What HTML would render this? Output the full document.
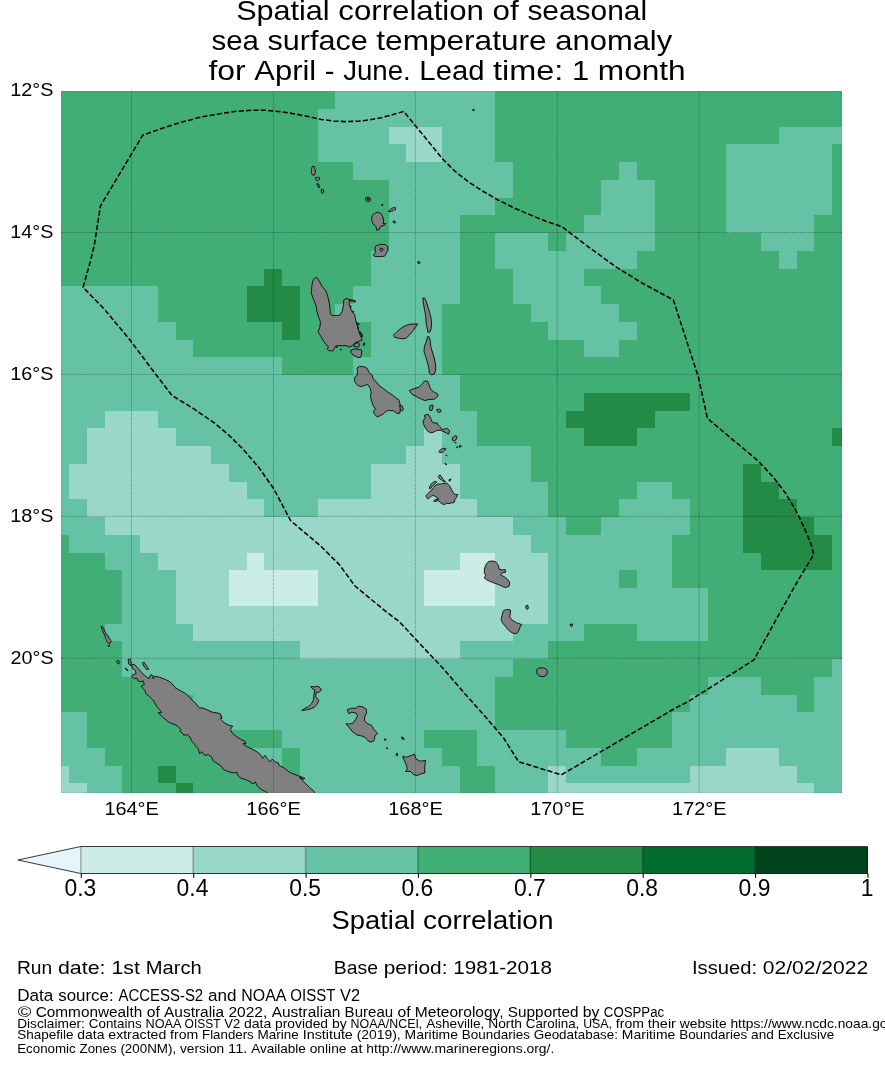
<!DOCTYPE html>
<html lang="en">
<head>
<meta charset="utf-8">
<title>Spatial correlation of seasonal sea surface temperature anomaly</title>
<style>
html,body{margin:0;padding:0;background:#fff;}
body{width:885px;height:1065px;overflow:hidden;font-family:"Liberation Sans",sans-serif;}
svg{display:block;}
svg text{font-family:"Liberation Sans",sans-serif;fill:#000;}
</style>
</head>
<body>
<svg width="885" height="1065" viewBox="0 0 885 1065">
<rect width="885" height="1065" fill="#fff"/>
<defs><filter id="gs" x="0" y="0" width="885" height="1065" filterUnits="userSpaceOnUse" color-interpolation-filters="sRGB"><feColorMatrix type="saturate" values="0"/></filter><clipPath id="mapclip"><rect x="61" y="91" width="781" height="702"/></clipPath></defs>

<g clip-path="url(#mapclip)">
<g shape-rendering="crispEdges">
<rect x="60" y="90" width="783" height="704" fill="#41ae76"/>
<rect x="335" y="91" width="160" height="18" fill="#66c2a4"/>
<rect x="318" y="109" width="177" height="18" fill="#66c2a4"/>
<rect x="318" y="127" width="71" height="17" fill="#66c2a4"/>
<rect x="389" y="127" width="53" height="17" fill="#99d8c9"/>
<rect x="442" y="127" width="53" height="17" fill="#66c2a4"/>
<rect x="779" y="127" width="63" height="17" fill="#66c2a4"/>
<rect x="318" y="144" width="88" height="18" fill="#66c2a4"/>
<rect x="406" y="144" width="36" height="18" fill="#99d8c9"/>
<rect x="442" y="144" width="53" height="18" fill="#66c2a4"/>
<rect x="726" y="144" width="106" height="18" fill="#66c2a4"/>
<rect x="353" y="162" width="160" height="18" fill="#66c2a4"/>
<rect x="619" y="162" width="18" height="18" fill="#66c2a4"/>
<rect x="726" y="162" width="106" height="18" fill="#66c2a4"/>
<rect x="389" y="180" width="124" height="18" fill="#66c2a4"/>
<rect x="601" y="180" width="54" height="18" fill="#66c2a4"/>
<rect x="726" y="180" width="106" height="18" fill="#66c2a4"/>
<rect x="389" y="198" width="106" height="17" fill="#66c2a4"/>
<rect x="601" y="198" width="54" height="17" fill="#66c2a4"/>
<rect x="726" y="198" width="106" height="17" fill="#66c2a4"/>
<rect x="389" y="215" width="71" height="18" fill="#66c2a4"/>
<rect x="584" y="215" width="71" height="18" fill="#66c2a4"/>
<rect x="726" y="215" width="88" height="18" fill="#66c2a4"/>
<rect x="389" y="233" width="71" height="18" fill="#66c2a4"/>
<rect x="495" y="233" width="53" height="18" fill="#66c2a4"/>
<rect x="566" y="233" width="89" height="18" fill="#66c2a4"/>
<rect x="761" y="233" width="53" height="18" fill="#66c2a4"/>
<rect x="371" y="251" width="89" height="18" fill="#66c2a4"/>
<rect x="495" y="251" width="142" height="18" fill="#66c2a4"/>
<rect x="779" y="251" width="18" height="18" fill="#66c2a4"/>
<rect x="264" y="269" width="18" height="17" fill="#238b45"/>
<rect x="371" y="269" width="89" height="17" fill="#66c2a4"/>
<rect x="513" y="269" width="71" height="17" fill="#66c2a4"/>
<rect x="61" y="286" width="97" height="18" fill="#66c2a4"/>
<rect x="247" y="286" width="53" height="18" fill="#238b45"/>
<rect x="353" y="286" width="107" height="18" fill="#66c2a4"/>
<rect x="513" y="286" width="88" height="18" fill="#66c2a4"/>
<rect x="61" y="304" width="97" height="18" fill="#66c2a4"/>
<rect x="247" y="304" width="53" height="18" fill="#238b45"/>
<rect x="335" y="304" width="107" height="18" fill="#66c2a4"/>
<rect x="531" y="304" width="88" height="18" fill="#66c2a4"/>
<rect x="61" y="322" width="115" height="18" fill="#66c2a4"/>
<rect x="282" y="322" width="18" height="18" fill="#238b45"/>
<rect x="371" y="322" width="71" height="18" fill="#66c2a4"/>
<rect x="548" y="322" width="89" height="18" fill="#66c2a4"/>
<rect x="61" y="340" width="132" height="17" fill="#66c2a4"/>
<rect x="371" y="340" width="71" height="17" fill="#66c2a4"/>
<rect x="584" y="340" width="35" height="17" fill="#66c2a4"/>
<rect x="61" y="357" width="221" height="18" fill="#66c2a4"/>
<rect x="353" y="357" width="89" height="18" fill="#66c2a4"/>
<rect x="61" y="375" width="399" height="18" fill="#66c2a4"/>
<rect x="61" y="393" width="399" height="18" fill="#66c2a4"/>
<rect x="584" y="393" width="106" height="18" fill="#238b45"/>
<rect x="61" y="411" width="44" height="17" fill="#66c2a4"/>
<rect x="105" y="411" width="53" height="17" fill="#99d8c9"/>
<rect x="158" y="411" width="319" height="17" fill="#66c2a4"/>
<rect x="566" y="411" width="89" height="17" fill="#238b45"/>
<rect x="61" y="428" width="26" height="18" fill="#66c2a4"/>
<rect x="87" y="428" width="89" height="18" fill="#99d8c9"/>
<rect x="176" y="428" width="248" height="18" fill="#66c2a4"/>
<rect x="424" y="428" width="18" height="18" fill="#99d8c9"/>
<rect x="442" y="428" width="35" height="18" fill="#66c2a4"/>
<rect x="584" y="428" width="53" height="18" fill="#238b45"/>
<rect x="832" y="428" width="10" height="18" fill="#238b45"/>
<rect x="61" y="446" width="26" height="18" fill="#66c2a4"/>
<rect x="87" y="446" width="124" height="18" fill="#99d8c9"/>
<rect x="211" y="446" width="195" height="18" fill="#66c2a4"/>
<rect x="406" y="446" width="36" height="18" fill="#99d8c9"/>
<rect x="442" y="446" width="89" height="18" fill="#66c2a4"/>
<rect x="61" y="464" width="8" height="18" fill="#66c2a4"/>
<rect x="69" y="464" width="160" height="18" fill="#99d8c9"/>
<rect x="229" y="464" width="142" height="18" fill="#66c2a4"/>
<rect x="371" y="464" width="89" height="18" fill="#99d8c9"/>
<rect x="460" y="464" width="71" height="18" fill="#66c2a4"/>
<rect x="743" y="464" width="18" height="18" fill="#238b45"/>
<rect x="61" y="482" width="8" height="17" fill="#66c2a4"/>
<rect x="69" y="482" width="178" height="17" fill="#99d8c9"/>
<rect x="247" y="482" width="124" height="17" fill="#66c2a4"/>
<rect x="371" y="482" width="89" height="17" fill="#99d8c9"/>
<rect x="460" y="482" width="88" height="17" fill="#66c2a4"/>
<rect x="637" y="482" width="35" height="17" fill="#66c2a4"/>
<rect x="743" y="482" width="36" height="17" fill="#238b45"/>
<rect x="61" y="499" width="26" height="18" fill="#66c2a4"/>
<rect x="87" y="499" width="177" height="18" fill="#99d8c9"/>
<rect x="264" y="499" width="54" height="18" fill="#66c2a4"/>
<rect x="318" y="499" width="159" height="18" fill="#99d8c9"/>
<rect x="477" y="499" width="71" height="18" fill="#66c2a4"/>
<rect x="619" y="499" width="71" height="18" fill="#66c2a4"/>
<rect x="743" y="499" width="54" height="18" fill="#238b45"/>
<rect x="61" y="517" width="44" height="18" fill="#66c2a4"/>
<rect x="105" y="517" width="408" height="18" fill="#99d8c9"/>
<rect x="513" y="517" width="53" height="18" fill="#66c2a4"/>
<rect x="601" y="517" width="89" height="18" fill="#66c2a4"/>
<rect x="743" y="517" width="71" height="18" fill="#238b45"/>
<rect x="69" y="535" width="71" height="18" fill="#66c2a4"/>
<rect x="140" y="535" width="391" height="18" fill="#99d8c9"/>
<rect x="531" y="535" width="141" height="18" fill="#66c2a4"/>
<rect x="743" y="535" width="89" height="18" fill="#238b45"/>
<rect x="105" y="553" width="53" height="17" fill="#66c2a4"/>
<rect x="158" y="553" width="89" height="17" fill="#99d8c9"/>
<rect x="247" y="553" width="17" height="17" fill="#ccece6"/>
<rect x="264" y="553" width="196" height="17" fill="#99d8c9"/>
<rect x="460" y="553" width="35" height="17" fill="#ccece6"/>
<rect x="495" y="553" width="53" height="17" fill="#99d8c9"/>
<rect x="548" y="553" width="124" height="17" fill="#66c2a4"/>
<rect x="761" y="553" width="71" height="17" fill="#238b45"/>
<rect x="122" y="570" width="54" height="18" fill="#66c2a4"/>
<rect x="176" y="570" width="53" height="18" fill="#99d8c9"/>
<rect x="229" y="570" width="89" height="18" fill="#ccece6"/>
<rect x="318" y="570" width="106" height="18" fill="#99d8c9"/>
<rect x="424" y="570" width="71" height="18" fill="#ccece6"/>
<rect x="495" y="570" width="53" height="18" fill="#99d8c9"/>
<rect x="548" y="570" width="71" height="18" fill="#66c2a4"/>
<rect x="637" y="570" width="35" height="18" fill="#66c2a4"/>
<rect x="122" y="588" width="54" height="18" fill="#66c2a4"/>
<rect x="176" y="588" width="53" height="18" fill="#99d8c9"/>
<rect x="229" y="588" width="89" height="18" fill="#ccece6"/>
<rect x="318" y="588" width="106" height="18" fill="#99d8c9"/>
<rect x="424" y="588" width="71" height="18" fill="#ccece6"/>
<rect x="495" y="588" width="53" height="18" fill="#99d8c9"/>
<rect x="548" y="588" width="160" height="18" fill="#66c2a4"/>
<rect x="122" y="606" width="54" height="18" fill="#66c2a4"/>
<rect x="176" y="606" width="372" height="18" fill="#99d8c9"/>
<rect x="548" y="606" width="160" height="18" fill="#66c2a4"/>
<rect x="105" y="624" width="88" height="17" fill="#66c2a4"/>
<rect x="193" y="624" width="320" height="17" fill="#99d8c9"/>
<rect x="513" y="624" width="71" height="17" fill="#66c2a4"/>
<rect x="637" y="624" width="71" height="17" fill="#66c2a4"/>
<rect x="122" y="641" width="178" height="18" fill="#66c2a4"/>
<rect x="300" y="641" width="160" height="18" fill="#99d8c9"/>
<rect x="460" y="641" width="88" height="18" fill="#66c2a4"/>
<rect x="122" y="659" width="391" height="18" fill="#66c2a4"/>
<rect x="832" y="659" width="10" height="18" fill="#66c2a4"/>
<rect x="158" y="677" width="337" height="18" fill="#66c2a4"/>
<rect x="708" y="677" width="53" height="18" fill="#66c2a4"/>
<rect x="814" y="677" width="28" height="18" fill="#66c2a4"/>
<rect x="193" y="695" width="302" height="17" fill="#66c2a4"/>
<rect x="690" y="695" width="107" height="17" fill="#66c2a4"/>
<rect x="814" y="695" width="28" height="17" fill="#66c2a4"/>
<rect x="61" y="712" width="26" height="18" fill="#66c2a4"/>
<rect x="211" y="712" width="284" height="18" fill="#66c2a4"/>
<rect x="672" y="712" width="170" height="18" fill="#66c2a4"/>
<rect x="61" y="730" width="26" height="18" fill="#66c2a4"/>
<rect x="282" y="730" width="142" height="18" fill="#66c2a4"/>
<rect x="477" y="730" width="89" height="18" fill="#66c2a4"/>
<rect x="672" y="730" width="170" height="18" fill="#66c2a4"/>
<rect x="61" y="748" width="44" height="18" fill="#66c2a4"/>
<rect x="247" y="748" width="35" height="18" fill="#66c2a4"/>
<rect x="300" y="748" width="142" height="18" fill="#66c2a4"/>
<rect x="477" y="748" width="124" height="18" fill="#66c2a4"/>
<rect x="637" y="748" width="89" height="18" fill="#66c2a4"/>
<rect x="726" y="748" width="53" height="18" fill="#99d8c9"/>
<rect x="779" y="748" width="63" height="18" fill="#66c2a4"/>
<rect x="61" y="766" width="8" height="17" fill="#99d8c9"/>
<rect x="69" y="766" width="53" height="17" fill="#66c2a4"/>
<rect x="158" y="766" width="18" height="17" fill="#238b45"/>
<rect x="300" y="766" width="160" height="17" fill="#66c2a4"/>
<rect x="495" y="766" width="53" height="17" fill="#66c2a4"/>
<rect x="548" y="766" width="18" height="17" fill="#99d8c9"/>
<rect x="566" y="766" width="124" height="17" fill="#66c2a4"/>
<rect x="690" y="766" width="107" height="17" fill="#99d8c9"/>
<rect x="797" y="766" width="45" height="17" fill="#66c2a4"/>
<rect x="61" y="783" width="26" height="10" fill="#99d8c9"/>
<rect x="87" y="783" width="35" height="10" fill="#66c2a4"/>
<rect x="176" y="783" width="17" height="10" fill="#238b45"/>
<rect x="300" y="783" width="160" height="10" fill="#66c2a4"/>
<rect x="495" y="783" width="53" height="10" fill="#66c2a4"/>
<rect x="548" y="783" width="266" height="10" fill="#99d8c9"/>
<rect x="814" y="783" width="28" height="10" fill="#66c2a4"/>
</g>
<g fill="#808080" stroke="#000" stroke-width="0.85" stroke-linejoin="round">
<polygon points="316.78,277.43 319.27,281.16 322.37,286.75 326.1,291.1 327.97,297.32 329.58,304.78 330.45,314.1 332.94,315.71 339.78,315.34 342.26,310.99 343.51,304.78 343.75,299.8 345.99,298.56 349.72,299.56 349.1,303.53 350.34,307.88 352.21,311.61 354.69,314.72 355.69,319.69 356.56,323.42 357.8,327.15 359.04,332.12 360.91,337.09 362.15,340.2 358.42,341.44 355.31,342.69 352.21,345.8 349.1,347.04 345.99,345.55 342.26,345.8 338.53,345.55 335.43,346.42 332.94,350.77 329.21,350.77 327.35,349.52 328.34,346.42 325.48,343.93 323,340.2 320.51,335.85 318.02,331.5 319.89,327.15 320.51,322.18 318.65,317.21 316.78,310.99 316.16,306.02 313.67,299.8 311.19,292.97 311.81,286.13 313.05,279.92 314.92,278.05"/>
<polygon points="350.96,350.15 354.69,348.9 359.66,349.52 361.78,350.15 361.53,354.5 360.29,357.6 357.18,357.23 353.45,355.12 350.96,352.63"/>
<polygon points="354.69,343.31 358.42,342.69 359.66,345.8 357.8,347.29 354.07,346.42"/>
<polygon points="363.39,343.31 364.64,342.69 364.64,345.17 363.14,345.8"/>
<polygon points="393.47,335.2 396.3,332.37 400.82,328.42 405.34,325.59 409.86,324.24 417.77,323.9 415.51,327.29 412.68,331.24 409.29,335.2 405.9,338.36 401.95,338.81 397.43,338.02 394.6,337.23"/>
<polygon points="422.85,298.14 424.55,297.91 426.24,301.3 427.94,306.95 429.63,312.6 431.1,318.25 431.55,323.9 431.1,328.98 429.63,332.37 427.71,332.03 427.37,328.98 426.24,323.9 425.9,318.25 425.11,312.6 423.98,306.95 423.19,301.3"/>
<polygon points="427.71,336.33 429.07,336.89 430.2,340.85 430.76,346.5 432.46,352.15 434.15,357.8 435.62,364.58 435.62,370.23 434.15,374.18 431.33,374.75 429.29,373.05 428.84,367.97 427.37,362.32 425.68,356.67 423.98,351.58 424.55,345.93 426.24,341.98 427.03,338.59"/>
<polygon points="424.55,380.96 427.71,381.3 429.07,384.92 430.76,389.44 433.59,391.69 437.54,393.95 437.88,396.21 434.72,399.04 429.07,399.6 424.55,400.51 420.03,398.47 415.51,396.21 411.55,393.95 409.29,390.56 413.25,388.87 418.9,387.18 422.29,383.79"/>
<polygon points="359.77,366.3 364.29,366.86 367.12,368.33 368.81,371.95 372.2,375.34 373.33,379.29 376.16,381.55 378.98,385.51 382.94,388.33 387.46,391.72 392.54,395.11 395.93,397.94 398.76,399.63 399.89,403.59 400.45,408.11 399.89,413.19 397.06,413.53 393.67,410.93 389.72,410.37 386.33,410.93 383.5,413.76 380.68,415.45 377.29,416.92 374.46,414.32 373.33,410.93 375.59,409.24 373.33,405.85 371.64,401.33 370.51,396.81 371.07,392.29 370.28,388.33 367.68,384.38 364.29,385.51 360.9,386.64 357.51,385.28 354.69,381.55 354.46,378.16 356.95,375.34 357.51,370.82 356.95,367.99"/>
<polygon points="399.89,405.28 402.15,405.85 403.5,409.24 402.15,410.93 400.45,410.37"/>
<polygon points="430.32,405.28 433.09,405.13 432.69,408.05 431.9,410.43 429.92,410.43 429.37,408.84"/>
<polygon points="436.65,409.64 439.41,409.08 441,410.43 440.6,412.01 438.62,412.41 437.04,411.22"/>
<polygon points="423.99,415.97 425.97,414.78 428.34,414.38 429.92,416.76 431.11,419.53 432.29,422.29 434.67,423.09 437.04,422.85 438.23,425.06 440.21,427.04 441.39,429.02 443.77,429.41 446.14,428.23 448.12,429.02 449.7,431 448.51,434.16 446.53,432.97 444.16,431.79 441.39,430.6 439.02,430.21 436.65,430.6 434.27,431.79 431.9,432.82 429.13,432.18 426.76,430.21 425.17,427.44 423.59,424.27 423.2,421.5 424.38,418.73 425.73,417.15"/>
<polygon points="452.47,437.72 454.45,435.74 456.82,436.3 456.82,438.12 455.63,440.09 453.66,441.04 452.31,440.09"/>
<polygon points="454.84,442.07 456.03,442.47 455.63,443.26"/>
<polygon points="456.42,447.22 458.01,446.82 457.85,447.85"/>
<polygon points="459.59,445.24 461.57,446.42 459.59,447.22"/>
<polygon points="438.86,451.57 440.6,449.59 442.97,448.16 446.14,448.96 444.56,450.38 442.18,452.36 439.81,452.75"/>
<polygon points="445.74,455.13 446.93,455.28 446.77,455.92"/>
<polygon points="444.95,463.04 446.14,463.83 446.77,464.78 445.51,464.46"/>
<polygon points="435.97,485.09 437.94,483.91 440.32,484.15 442.69,483.51 446.65,483.12 448.62,484.7 450.21,487.07 451.79,490.24 453.77,493.4 455.35,494.59 457.72,494.43 456.53,497.36 454.95,499.73 454.16,502.5 451.39,502.9 449.02,503.69 446.65,503.29 444.67,504.48 442.29,504.08 440.32,502.5 438.73,500.92 436.76,500.13 438.34,498.54 435.97,496.8 433.59,495.38 431.61,495.78 429.64,497.75 428.05,498.94 426.71,497.59 426.08,495.78 427.66,493.8 429.64,491.82 432.01,489.84 433.59,487.47 434.78,485.89"/>
<polygon points="429.24,488.26 430.43,485.09 432.41,482.72 435.17,481.3 436.76,482.09 434.38,484.3 432.01,486.68 430.43,488.89"/>
<polygon points="438.1,476.39 440.16,474.97 441.5,476.79 443.09,479.56 445.46,481.53 443.88,481.77 441.5,479.95 439.53,478.77"/>
<polygon points="449.02,479.56 451,478.92 450.21,480.74 449.18,481.14"/>
<polygon points="433.59,500.92 435.97,499.34 438.34,498.94 437.55,500.76 434.78,501.71"/>
<polygon points="488.65,561.44 493,560.94 496.1,562.18 498.34,565.54 499.21,569.27 502.32,569.89 505.43,569.64 505.43,572.37 501.7,573 500.45,574.86 504.18,576.72 507.91,579.83 509.78,582.94 509.15,586.05 506.05,587.54 502.57,586.67 499.21,584.8 494.86,583.31 490.51,581.7 486.78,579.83 484.29,577.97 485.54,575.48 484.29,572.37 484.67,568.02 486.16,564.29"/>
<polygon points="503.56,610.66 506.67,609.42 510.4,609.91 510.4,613.39 509.78,617.12 512.26,620.23 516.61,622.72 521.58,624.58 519.72,627.69 518.48,631.42 516.61,633.53 512.26,633.03 508.53,630.17 505.43,626.44 502.94,623.34 501.08,619.61 502.07,615.26 502.94,612.15"/>
<polygon points="525.94,605.69 527.8,605.31 528.42,608.42 526.93,609.42 525.69,607.8"/>
<polygon points="570.06,624.33 572.55,623.96 572.18,626.07 570.93,626.44"/>
<polygon points="312.49,166.17 314.39,166.61 315.42,171.02 314.69,174.69 312.93,175.42 311.46,173.22 311.46,168.81"/>
<polygon points="315.42,177.33 319.1,177.33 319.83,179.1 317.63,180.86 315.86,179.83"/>
<polygon points="316.89,183.5 318.8,184.24 319.83,187.17 318.36,187.61 317.33,185.26"/>
<polygon points="321.3,189.38 323.21,189.38 323.8,192.31 322.33,193.78 321.3,192.02"/>
<polygon points="365.66,197.9 368.3,197.02 370.51,198.48 370.21,200.83 367.86,201.86 365.8,200.39"/>
<polygon points="373.44,214.05 377.12,212.14 381.08,213.61 382.99,217.29 383.73,220.96 382.99,223.9 385.93,223.45 384.46,225.36 380.49,226.39 379.02,229.77 376.67,230.21 376.09,226.83 373.15,223.9 371.53,220.22 371.97,216.55"/>
<polygon points="388.13,211.7 391.07,208.47 395.18,207.3 395.77,209.21 393.27,210.68 389.89,211.7"/>
<polygon points="392.83,221.4 394.74,220.96 395.48,222.43 394.01,223.16"/>
<polygon points="381.82,204.36 382.7,204.36 382.7,205.53 381.82,205.53"/>
<polygon points="375.65,245.93 380.05,244.46 385.19,244.46 387.84,246.66 387.84,250.33 385.93,254.01 384.46,256.21 379.32,256.65 374.18,256.21 373.44,254.74 375.65,251.8 374.91,248.87"/>
<polygon points="417.8,261.65 419.57,261.65 419.86,263.41 418.1,263.7"/>
<polygon points="101.17,626.17 103.08,627.34 104.25,629.99 105.58,632.49 106.16,634.69 107.93,635.28 109.1,638.21 111.01,640.56 110.57,642.77 108.66,643.65 106.9,641.59 105.72,638.65 104.69,635.57 103.23,632.04 101.76,628.81"/>
<polygon points="107.93,645.71 109.69,645.26 108.95,646.73"/>
<polygon points="116.74,661.13 118.5,660.39 119.68,662.6 118.5,664.07 117.03,662.89"/>
<polygon points="125.11,668.18 126.58,668.77 128.05,670.68 126.58,670.24"/>
<polygon points="128.05,659.66 129.96,658.92 131.43,662.6 130.55,665.53 128.78,664.07"/>
<polygon points="142.3,662.89 144.21,662.3 146.41,665.53 148.61,669.21 146.7,669.65 144.21,666.71"/>
<polygon points="131.72,664.8 134.37,664.36 137.3,667.3 140.53,671.12 144.65,675.52 149.05,678.75 150.82,674.64 152.58,675.52 153.17,678.75 154.49,676.11 159.63,677.29 165.51,679.49 169.91,681.69 173.58,685.36 175.05,687.57 180.19,690.51 185.33,693.44 189.01,696.38 191.94,700.05 194.88,702.26 197.82,705.93 199.29,708.13 202.23,707.84 206.63,709.6 212.51,712.24 216.92,712.83 220.59,714.01 221.62,718.41 221.58,716.44 220.85,719.38 224.52,723.05 228.92,725.25 232.6,725.99 230.39,729.66 232.6,733.33 237,737 240.68,739.21 245.08,741.41 245.82,743.61 242.88,743.61 246.55,746.55 251.69,748.75 256.83,751.69 260.51,754.63 262.71,758.3 264.91,755.36 267.12,758.3 270.05,761.97 272.26,759.04 275.19,761.97 278.13,762.71 279.6,765.65 284.01,767.85 288.41,771.52 292.82,773.73 298.7,775.93 304.57,778.13 303.84,779.6 299.43,777.4 302.37,780.33 306.04,784.01 309.71,787.68 313.38,790.62 314.85,792.82 315.59,795.76 266.38,795.76 267.12,792.53 264.91,791.35 261.97,789.88 259.04,787.68 256.83,785.48 255.36,781.8 253.16,784.01 250.22,781.8 245.82,779.6 240.68,778.13 237.74,775.19 237,772.26 233.33,772.99 228.19,771.52 223.05,769.32 221.58,766.38 217.17,763.44 212.77,760.51 212.03,757.57 208.36,754.63 204.69,755.36 201.75,751.69 199.55,753.9 198.08,748.75 194.41,744.35 191.47,740.68 190,737 186.8,734.57 183.87,735.31 182.4,733.1 179.46,730.9 180.93,729.43 177.99,726.49 175.05,724.58 171.38,723.55 167.71,721.35 164.04,718.41 161.1,715.48 158.16,712.83 161.39,712.54 160.36,710.33 157.43,707.4 155.22,703.73 153.02,700.05 149.35,696.38 145.68,693.44 144.94,690.51 142.74,688.3 141.27,686.1 144.21,684.63 143.47,680.96 140.53,681.69 138.33,680.96 136.86,678.02 134.37,678.75 131.72,676.55 132.9,674.64 136.13,673.61 135.39,670.68 132.46,668.47"/>
<polygon points="310.82,686.39 314.78,686.87 318.41,686.07 321.58,690.03 318.73,692.4 316.36,692.09 315.57,696.36 318.73,700.31 317.15,704.27 313.98,707.43 310.03,709.01 305.28,710.12 301.64,710.6 304.49,708.54 308.45,706.64 311.61,703.48 313.67,699.52 313.98,694.78 314.78,690.03 312.09,688.45"/>
<polygon points="347.21,709.8 351.16,708.22 355.91,708.22 358.28,706.32 362.24,706.64 366.19,709.01 366.51,712.97 364.61,716.92 364.61,720.88 366.98,723.25 371.73,725.62 374.1,729.58 377.58,733.54 374.89,735.91 374.1,740.65 370.94,742.24 367.77,740.65 365.4,737.49 361.45,735.91 356.7,734.8 352.74,731.95 349.58,728 345.94,723.73 349.58,724.04 352.74,723.25 355.91,719.3 357.49,715.34 355.91,712.97 351.95,712.18 348.79,713.76"/>
<polygon points="402.58,756.47 406.53,757.27 410.49,755.68 414.44,754.1 416.03,758.85 419.98,761.22 425.52,760.43 424.73,766.76 424.73,773.09 420.77,773.88 417.61,775.46 413.65,774.67 410.49,771.5 405.74,771.5 407.32,768.34 405.74,763.59 403.84,759.64"/>
<polygon points="401.31,737.02 403.37,737.49 404.16,739.55 402.26,739.07"/>
<polygon points="384.38,739.07 385.97,739.07 385.97,740.18 384.38,740.18"/>
<polygon points="386.44,747.77 387.55,747.77 387.55,748.72 386.44,748.72"/>
<polygon points="396.25,753.31 397.52,753.31 397.52,755.68 396.25,755.68"/>
<polygon points="536.72,669.66 538.98,667.97 543.5,667.74 546.33,669.1 547.46,671.92 546.33,675.31 542.94,676.78 538.98,675.88 537.06,673.62"/>
<polygon points="472.6,109.6 474,109.2 474.3,110.4 473,110.8"/>
<polygon points="349.47,299.68 353.45,300.05 355.44,300.92 354.94,302.41 353.45,301.42 349.72,300.8"/>
<polygon points="350.09,305.89 351.34,306.52 350.71,307.39"/>
<polygon points="352.08,311.12 353.82,311.49 353.2,312.36"/>
<polygon points="356.31,322.55 359.42,323.92 358.55,325.04 356.81,324.42"/>
<polygon points="357.68,327.03 358.79,327.65 358.17,328.77"/>
<polygon points="359.66,331.38 361.4,332.74 362.9,336.35 361.9,336.97 360.53,334.11"/>
<polygon points="340.02,349.03 341.52,349.28 341.02,350.15"/>
<polygon points="335.43,346.42 337.29,346.04 336.92,347.54"/>
<polygon points="380.2,248.13 382.55,248.57 383.28,250.04 381.67,251.36 380.2,250.78"/>
<polygon points="367.27,198.48 369.04,198.78 368.74,199.95 367.57,199.66"/>
</g>
<g stroke="#000" stroke-opacity="0.11" stroke-width="0.55" fill="none">
<line x1="131.5" y1="91" x2="131.5" y2="793"/>
<line x1="273.42" y1="91" x2="273.42" y2="793"/>
<line x1="415.34" y1="91" x2="415.34" y2="793"/>
<line x1="557.26" y1="91" x2="557.26" y2="793"/>
<line x1="699.18" y1="91" x2="699.18" y2="793"/>
<line x1="61" y1="232.48" x2="842" y2="232.48"/>
<line x1="61" y1="374.41" x2="842" y2="374.41"/>
<line x1="61" y1="516.34" x2="842" y2="516.34"/>
<line x1="61" y1="658.27" x2="842" y2="658.27"/>
</g>
<g stroke="#000" stroke-opacity="0.33" stroke-width="0.55" stroke-dasharray="2.8 1.13" fill="none">
<line x1="131.5" y1="91" x2="131.5" y2="793"/>
<line x1="273.42" y1="91" x2="273.42" y2="793"/>
<line x1="415.34" y1="91" x2="415.34" y2="793"/>
<line x1="557.26" y1="91" x2="557.26" y2="793"/>
<line x1="699.18" y1="91" x2="699.18" y2="793"/>
<line x1="61" y1="232.48" x2="842" y2="232.48"/>
<line x1="61" y1="374.41" x2="842" y2="374.41"/>
<line x1="61" y1="516.34" x2="842" y2="516.34"/>
<line x1="61" y1="658.27" x2="842" y2="658.27"/>
</g>
<polygon fill="none" stroke="#000" stroke-width="1.55" stroke-dasharray="5.14 2.22" points="83.1,287.3 90.4,261.2 94.4,244.5 100.5,205.8 142.8,135.1 161.5,128.6 181.9,122 202.2,116.8 222.5,113.3 236.8,111.3 252.2,110.25 266.4,110.25 280.7,111.7 294.9,113.9 309.1,116.8 321.3,119.4 333.5,121 345.8,121.6 358,121.2 370.2,119.8 382.4,117.4 394.6,114.1 403.7,111.4 442.7,159 454.9,171.2 469.1,182.4 483.4,191.5 497.6,199.7 513.9,207.8 530.2,214.9 546.4,221.4 561.7,226.5 583.5,243.2 616.3,267.1 642.2,283.1 673.4,300 698.5,377.5 707.4,418.3 731.7,438.8 758.6,461.3 773.2,477.1 785.4,493 796.4,511.3 805,529.6 811.1,544.3 813.8,554.5 797.7,580.9 773.2,624.8 754,659.8 689.7,700.6 673.3,709.3 561.4,774.8 518.5,761.7 504,738.5 485.7,717.1 461.3,689.6 443,668.3 418.6,642.4 399.5,621.8 385.1,610.9 355,586 339.3,564.6 321,546.3 290.6,520.6 273.8,488.8 258.9,467.6 244,450.2 229.1,435.3 214.1,422.8 194.3,409.1 172,395.5 152,369.4 129.6,339.5 104.8,309.7"/>
<rect x="61.5" y="91.5" width="780" height="701" fill="none" stroke="#000" stroke-opacity="0.05" stroke-width="1"/>
</g>
<g filter="url(#gs)">
<text y="19.9" font-size="28.24"><tspan x="236.21" textLength="93.47" lengthAdjust="spacingAndGlyphs">Spatial</tspan> <tspan x="338.31" textLength="145.68" lengthAdjust="spacingAndGlyphs">correlation</tspan> <tspan x="492.62" textLength="26.17" lengthAdjust="spacingAndGlyphs">of</tspan> <tspan x="527.42" textLength="119.63" lengthAdjust="spacingAndGlyphs">seasonal</tspan></text>
<text y="49.95" font-size="28.18"><tspan x="211.53" textLength="47.4" lengthAdjust="spacingAndGlyphs">sea</tspan> <tspan x="267.54" textLength="100.16" lengthAdjust="spacingAndGlyphs">surface</tspan> <tspan x="376.31" textLength="170.34" lengthAdjust="spacingAndGlyphs">temperature</tspan> <tspan x="555.27" textLength="116.93" lengthAdjust="spacingAndGlyphs">anomaly</tspan></text>
<text y="80" font-size="28.16"><tspan x="208.48" textLength="37.23" lengthAdjust="spacingAndGlyphs">for</tspan> <tspan x="254.32" textLength="61.9" lengthAdjust="spacingAndGlyphs">April</tspan> <tspan x="324.82" textLength="9.77" lengthAdjust="spacingAndGlyphs">-</tspan> <tspan x="343.2" textLength="67.58" lengthAdjust="spacingAndGlyphs">June.</tspan> <tspan x="419.39" textLength="65.06" lengthAdjust="spacingAndGlyphs">Lead</tspan> <tspan x="493.06" textLength="70.3" lengthAdjust="spacingAndGlyphs">time:</tspan> <tspan x="571.97" textLength="17.23" lengthAdjust="spacingAndGlyphs">1</tspan> <tspan x="597.81" textLength="87.89" lengthAdjust="spacingAndGlyphs">month</tspan></text>
<text y="96.15" font-size="18.62"><tspan x="10.27" textLength="43.09" lengthAdjust="spacingAndGlyphs">12°S</tspan></text>
<text y="238.08" font-size="18.62"><tspan x="10.27" textLength="43.09" lengthAdjust="spacingAndGlyphs">14°S</tspan></text>
<text y="380.01" font-size="18.62"><tspan x="10.27" textLength="43.09" lengthAdjust="spacingAndGlyphs">16°S</tspan></text>
<text y="521.94" font-size="18.62"><tspan x="10.27" textLength="43.09" lengthAdjust="spacingAndGlyphs">18°S</tspan></text>
<text y="663.87" font-size="18.62"><tspan x="10.6" textLength="43.09" lengthAdjust="spacingAndGlyphs">20°S</tspan></text>
<text y="814.8" font-size="18.62"><tspan x="104.43" textLength="54.43" lengthAdjust="spacingAndGlyphs">164°E</tspan></text>
<text y="814.8" font-size="18.62"><tspan x="246.35" textLength="54.43" lengthAdjust="spacingAndGlyphs">166°E</tspan></text>
<text y="814.8" font-size="18.62"><tspan x="388.27" textLength="54.43" lengthAdjust="spacingAndGlyphs">168°E</tspan></text>
<text y="814.8" font-size="18.62"><tspan x="530.19" textLength="54.43" lengthAdjust="spacingAndGlyphs">170°E</tspan></text>
<text y="814.8" font-size="18.62"><tspan x="672.11" textLength="54.43" lengthAdjust="spacingAndGlyphs">172°E</tspan></text>
</g>
<g shape-rendering="crispEdges">
<rect x="80.8" y="846.5" width="112.67" height="27" fill="#ccece6"/>
<rect x="193.17" y="846.5" width="112.67" height="27" fill="#99d8c9"/>
<rect x="305.54" y="846.5" width="112.67" height="27" fill="#66c2a4"/>
<rect x="417.91" y="846.5" width="112.67" height="27" fill="#41ae76"/>
<rect x="530.29" y="846.5" width="112.67" height="27" fill="#238b45"/>
<rect x="642.66" y="846.5" width="112.67" height="27" fill="#006d2c"/>
<rect x="755.03" y="846.5" width="112.67" height="27" fill="#00441b"/>
</g>
<polygon points="80.8,846.5 17.9,860 80.8,873.5" fill="#e5f5f9"/>
<g stroke="#000" stroke-opacity="0.27" stroke-width="1.6">
<line x1="80.8" y1="846.5" x2="80.8" y2="873.5"/>
<line x1="193.17" y1="846.5" x2="193.17" y2="873.5"/>
<line x1="305.54" y1="846.5" x2="305.54" y2="873.5"/>
<line x1="417.91" y1="846.5" x2="417.91" y2="873.5"/>
<line x1="530.29" y1="846.5" x2="530.29" y2="873.5"/>
<line x1="642.66" y1="846.5" x2="642.66" y2="873.5"/>
<line x1="755.03" y1="846.5" x2="755.03" y2="873.5"/>
<line x1="867.4" y1="846.5" x2="867.4" y2="873.5"/>
</g>
<g stroke="#000" stroke-width="1.1">
<line x1="81.35" y1="873.5" x2="81.35" y2="877.7"/>
<line x1="193.72" y1="873.5" x2="193.72" y2="877.7"/>
<line x1="306.09" y1="873.5" x2="306.09" y2="877.7"/>
<line x1="418.46" y1="873.5" x2="418.46" y2="877.7"/>
<line x1="530.84" y1="873.5" x2="530.84" y2="877.7"/>
<line x1="643.21" y1="873.5" x2="643.21" y2="877.7"/>
<line x1="755.58" y1="873.5" x2="755.58" y2="877.7"/>
<line x1="867.95" y1="873.5" x2="867.95" y2="877.7"/>
</g>
<polygon points="80.8,846.5 867.4,846.5 867.4,873.5 80.8,873.5 17.9,860" fill="none" stroke="#222" stroke-width="0.9" stroke-linejoin="miter"/>
<g filter="url(#gs)">
<text y="895.9" font-size="23"><tspan x="64.44" textLength="31.81" lengthAdjust="spacingAndGlyphs">0.3</tspan></text>
<text y="895.9" font-size="23"><tspan x="176.57" textLength="31.81" lengthAdjust="spacingAndGlyphs">0.4</tspan></text>
<text y="895.9" font-size="23"><tspan x="289.25" textLength="31.81" lengthAdjust="spacingAndGlyphs">0.5</tspan></text>
<text y="895.9" font-size="23"><tspan x="401.38" textLength="31.81" lengthAdjust="spacingAndGlyphs">0.6</tspan></text>
<text y="895.9" font-size="23"><tspan x="513.98" textLength="31.81" lengthAdjust="spacingAndGlyphs">0.7</tspan></text>
<text y="895.9" font-size="23"><tspan x="626.18" textLength="31.81" lengthAdjust="spacingAndGlyphs">0.8</tspan></text>
<text y="895.9" font-size="23"><tspan x="738.57" textLength="31.81" lengthAdjust="spacingAndGlyphs">0.9</tspan></text>
<text y="895.9" font-size="23"><tspan x="860.86" textLength="12.72" lengthAdjust="spacingAndGlyphs">1</tspan></text>
<text y="929.2" font-size="25.29"><tspan x="331.5" textLength="83.73" lengthAdjust="spacingAndGlyphs">Spatial</tspan> <tspan x="422.96" textLength="130.49" lengthAdjust="spacingAndGlyphs">correlation</tspan></text>
<text y="974" font-size="18.92"><tspan x="16.9" textLength="35.23" lengthAdjust="spacingAndGlyphs">Run</tspan> <tspan x="57.96" textLength="47.61" lengthAdjust="spacingAndGlyphs">date:</tspan> <tspan x="111.42" textLength="28.46" lengthAdjust="spacingAndGlyphs">1st</tspan> <tspan x="145.72" textLength="56" lengthAdjust="spacingAndGlyphs">March</tspan></text>
<text y="974" font-size="18.84"><tspan x="333.82" textLength="44.12" lengthAdjust="spacingAndGlyphs">Base</tspan> <tspan x="383.7" textLength="63.83" lengthAdjust="spacingAndGlyphs">period:</tspan> <tspan x="453.29" textLength="98.77" lengthAdjust="spacingAndGlyphs">1981-2018</tspan></text>
<text y="974" font-size="18.92"><tspan x="692.01" textLength="65.03" lengthAdjust="spacingAndGlyphs">Issued:</tspan> <tspan x="762.85" textLength="105.36" lengthAdjust="spacingAndGlyphs">02/02/2022</tspan></text>
<text y="1000.8" font-size="15.91"><tspan x="17.2" textLength="36.17" lengthAdjust="spacingAndGlyphs">Data</tspan> <tspan x="58.19" textLength="55.41" lengthAdjust="spacingAndGlyphs">source:</tspan> <tspan x="118.42" textLength="84.78" lengthAdjust="spacingAndGlyphs">ACCESS-S2</tspan> <tspan x="208.02" textLength="28.5" lengthAdjust="spacingAndGlyphs">and</tspan> <tspan x="241.34" textLength="44.14" lengthAdjust="spacingAndGlyphs">NOAA</tspan> <tspan x="290.29" textLength="44.88" lengthAdjust="spacingAndGlyphs">OISST</tspan> <tspan x="339.99" textLength="20" lengthAdjust="spacingAndGlyphs">V2</tspan></text>
<text y="1017.1" font-size="14.53"><tspan x="17.8" textLength="13.58" lengthAdjust="spacingAndGlyphs">©</tspan> <tspan x="35.7" textLength="106.65" lengthAdjust="spacingAndGlyphs">Commonwealth</tspan> <tspan x="146.66" textLength="13.09" lengthAdjust="spacingAndGlyphs">of</tspan> <tspan x="164.07" textLength="60.07" lengthAdjust="spacingAndGlyphs">Australia</tspan> <tspan x="228.46" textLength="38.88" lengthAdjust="spacingAndGlyphs">2022,</tspan> <tspan x="271.65" textLength="68.68" lengthAdjust="spacingAndGlyphs">Australian</tspan> <tspan x="344.64" textLength="48.49" lengthAdjust="spacingAndGlyphs">Bureau</tspan> <tspan x="397.45" textLength="13.09" lengthAdjust="spacingAndGlyphs">of</tspan> <tspan x="414.86" textLength="88.71" lengthAdjust="spacingAndGlyphs">Meteorology,</tspan> <tspan x="507.88" textLength="70.66" lengthAdjust="spacingAndGlyphs">Supported</tspan> <tspan x="582.85" textLength="16.66" lengthAdjust="spacingAndGlyphs">by</tspan> <tspan x="603.83" textLength="60.35" lengthAdjust="spacingAndGlyphs">COSPPac</tspan></text>
<text y="1028" font-size="12.56"><tspan x="17.2" textLength="67.73" lengthAdjust="spacingAndGlyphs">Disclaimer:</tspan> <tspan x="88.77" textLength="52.93" lengthAdjust="spacingAndGlyphs">Contains</tspan> <tspan x="145.54" textLength="35.2" lengthAdjust="spacingAndGlyphs">NOAA</tspan> <tspan x="184.58" textLength="35.79" lengthAdjust="spacingAndGlyphs">OISST</tspan> <tspan x="224.2" textLength="15.95" lengthAdjust="spacingAndGlyphs">V2</tspan> <tspan x="243.99" textLength="27.21" lengthAdjust="spacingAndGlyphs">data</tspan> <tspan x="275.04" textLength="53.03" lengthAdjust="spacingAndGlyphs">provided</tspan> <tspan x="331.91" textLength="14.82" lengthAdjust="spacingAndGlyphs">by</tspan> <tspan x="350.57" textLength="71.77" lengthAdjust="spacingAndGlyphs">NOAA/NCEI,</tspan> <tspan x="426.18" textLength="58.13" lengthAdjust="spacingAndGlyphs">Asheville,</tspan> <tspan x="488.16" textLength="33.79" lengthAdjust="spacingAndGlyphs">North</tspan> <tspan x="525.78" textLength="53.54" lengthAdjust="spacingAndGlyphs">Carolina,</tspan> <tspan x="583.16" textLength="28.84" lengthAdjust="spacingAndGlyphs">USA,</tspan> <tspan x="615.84" textLength="28.11" lengthAdjust="spacingAndGlyphs">from</tspan> <tspan x="647.79" textLength="28.15" lengthAdjust="spacingAndGlyphs">their</tspan> <tspan x="679.78" textLength="46.8" lengthAdjust="spacingAndGlyphs">website</tspan> <tspan x="730.42" textLength="196.16" lengthAdjust="spacingAndGlyphs">https://www.ncdc.noaa.gov/oisst</tspan></text>
<text y="1038.8" font-size="12.56"><tspan x="17.2" textLength="56.22" lengthAdjust="spacingAndGlyphs">Shapefile</tspan> <tspan x="77.26" textLength="27.21" lengthAdjust="spacingAndGlyphs">data</tspan> <tspan x="108.31" textLength="57.95" lengthAdjust="spacingAndGlyphs">extracted</tspan> <tspan x="170.11" textLength="28.11" lengthAdjust="spacingAndGlyphs">from</tspan> <tspan x="202.06" textLength="51.72" lengthAdjust="spacingAndGlyphs">Flanders</tspan> <tspan x="257.62" textLength="41.24" lengthAdjust="spacingAndGlyphs">Marine</tspan> <tspan x="302.7" textLength="50.17" lengthAdjust="spacingAndGlyphs">Institute</tspan> <tspan x="356.7" textLength="44.01" lengthAdjust="spacingAndGlyphs">(2019),</tspan> <tspan x="404.55" textLength="53.44" lengthAdjust="spacingAndGlyphs">Maritime</tspan> <tspan x="461.83" textLength="68.11" lengthAdjust="spacingAndGlyphs">Boundaries</tspan> <tspan x="533.78" textLength="84.26" lengthAdjust="spacingAndGlyphs">Geodatabase:</tspan> <tspan x="621.88" textLength="53.44" lengthAdjust="spacingAndGlyphs">Maritime</tspan> <tspan x="679.16" textLength="68.11" lengthAdjust="spacingAndGlyphs">Boundaries</tspan> <tspan x="751.11" textLength="22.73" lengthAdjust="spacingAndGlyphs">and</tspan> <tspan x="777.67" textLength="56.45" lengthAdjust="spacingAndGlyphs">Exclusive</tspan></text>
<text y="1053.4" font-size="12.56"><tspan x="17.2" textLength="58.48" lengthAdjust="spacingAndGlyphs">Economic</tspan> <tspan x="79.52" textLength="37.05" lengthAdjust="spacingAndGlyphs">Zones</tspan> <tspan x="120.4" textLength="55.78" lengthAdjust="spacingAndGlyphs">(200NM),</tspan> <tspan x="180.03" textLength="44.24" lengthAdjust="spacingAndGlyphs">version</tspan> <tspan x="228.11" textLength="19.21" lengthAdjust="spacingAndGlyphs">11.</tspan> <tspan x="251.16" textLength="54.68" lengthAdjust="spacingAndGlyphs">Available</tspan> <tspan x="309.68" textLength="36.85" lengthAdjust="spacingAndGlyphs">online</tspan> <tspan x="350.37" textLength="12.14" lengthAdjust="spacingAndGlyphs">at</tspan> <tspan x="366.35" textLength="188.02" lengthAdjust="spacingAndGlyphs">http://www.marineregions.org/.</tspan></text>
</g>
</svg>
</body>
</html>
